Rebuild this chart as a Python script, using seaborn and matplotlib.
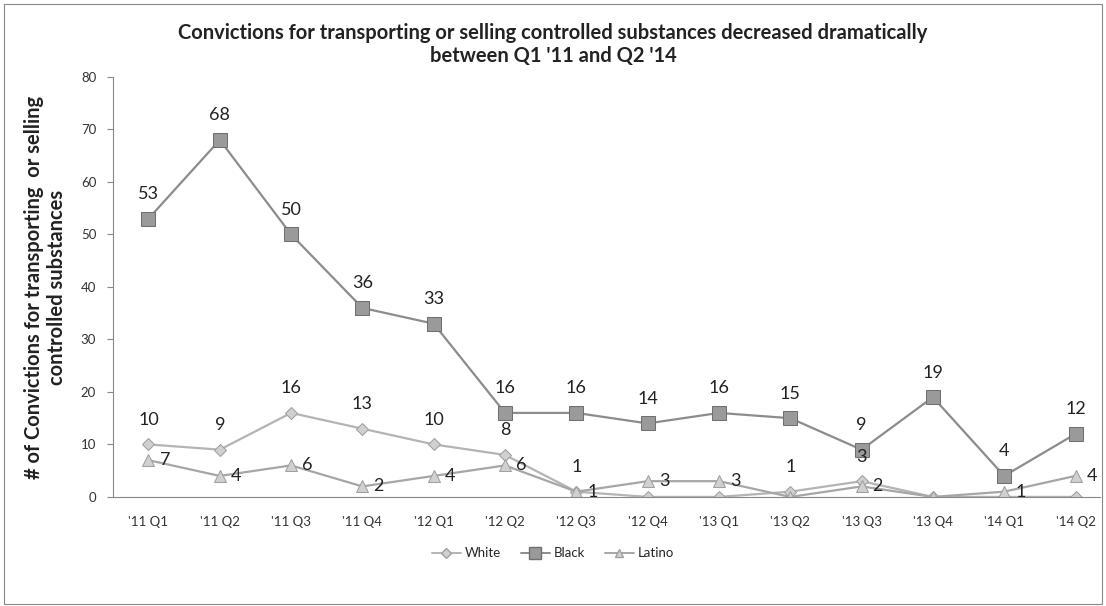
import numpy as np
import matplotlib
matplotlib.use("Agg")
import matplotlib.pyplot as plt
import pandas as pd
import seaborn as sns
from matplotlib.patches import Rectangle

quarters = ["'11 Q1", "'11 Q2", "'11 Q3", "'11 Q4", "'12 Q1", "'12 Q2", "'12 Q3",
            "'12 Q4", "'13 Q1", "'13 Q2", "'13 Q3", "'13 Q4", "'14 Q1", "'14 Q2"]
white = [10, 9, 16, 13, 10, 8, 1, 0, 0, 1, 3, 0, 0, 0]
black = [53, 68, 50, 36, 33, 16, 16, 14, 16, 15, 9, 19, 4, 12]
latino = [7, 4, 6, 2, 4, 6, 1, 3, 3, 0, 2, 0, 1, 4]
y_ticks = [0, 10, 20, 30, 40, 50, 60, 70, 80]

series = {"White": white, "Black": black, "Latino": latino}
rows = []
for name, vals in series.items():
    for i, v in enumerate(vals):
        rows.append({"pos": i, "value": v, "group": name})
df = pd.DataFrame(rows)

sns.set_style("white")
plt.rcParams['font.family'] = ['Lato', 'DejaVu Sans']

fig = plt.figure(figsize=(11.06, 6.06), dpi=100)
ax = fig.add_axes([0.102, 0.180, 0.893, 0.693])

palette = {"White": "#b4b4b4", "Black": "#8c8c8c", "Latino": "#a6a6a6"}
markers = {"White": "D", "Black": "s", "Latino": "^"}
sizes = {"White": 6, "Black": 10, "Latino": 8}

for name in ["White", "Latino", "Black"]:
    sub = df[df["group"] == name]
    sns.lineplot(data=sub, x="pos", y="value", ax=ax, color=palette[name],
                 marker=markers[name], markersize=sizes[name], linewidth=1.6,
                 markerfacecolor="#9a9a9a" if name == "Black" else "#d0d0d0",
                 markeredgecolor="#707070" if name == "Black" else "#a0a0a0",
                 label=name, legend=False)

# data labels
for i, v in enumerate(black):
    ax.annotate(str(v), (i, v), xytext=(0, 12), textcoords="offset points",
                ha="center", va="bottom", fontsize=13, color="#222222")
for i, v in enumerate(white):
    if v > 0:
        ax.annotate(str(v), (i, v), xytext=(0, 12), textcoords="offset points",
                    ha="center", va="bottom", fontsize=13, color="#222222")
for i, v in enumerate(latino):
    if v > 0:
        ax.annotate(str(v), (i, v), xytext=(8, 0), textcoords="offset points",
                    ha="left", va="center", fontsize=13, color="#222222")

ax.set_xlim(-0.5, 13.35)
ax.set_ylim(0, 80)
ax.set_yticks(y_ticks)
ax.set_yticklabels([str(t) for t in y_ticks], fontsize=9.5, color="#333333")
ax.set_xticks(range(len(quarters)))
ax.set_xticklabels(quarters, fontsize=9.5, color="#333333")
ax.set_xticks(np.arange(0.5, len(quarters) - 0.5, 1), minor=True)
ax.tick_params(axis="x", which="major", length=0, pad=14)
ax.tick_params(axis="x", which="minor", length=4, color="#888888", direction="out")
ax.tick_params(axis="y", length=4, color="#888888", direction="out", left=True, pad=8)
for s in ["top", "right"]:
    ax.spines[s].set_visible(False)
for s in ["left", "bottom"]:
    ax.spines[s].set_color("#888888")
    ax.spines[s].set_linewidth(0.8)
ax.set_xlabel("")
ax.set_ylabel("# of Convictions for transporting  or selling\ncontrolled substances",
              fontsize=14.5, fontweight="bold", color="#222222", labelpad=10, linespacing=1.15)

fig.text(0.5, 0.962, "Convictions for transporting or selling controlled substances decreased dramatically\nbetween Q1 '11 and Q2 '14",
         ha="center", va="top", fontsize=14.5, fontweight="bold", color="#222222", linespacing=1.2)

handles = [plt.Line2D([], [], color=palette[n], marker=markers[n], markersize=sizes[n] * 0.8,
                      markerfacecolor="#9a9a9a" if n == "Black" else "#d0d0d0",
                      markeredgecolor="#707070" if n == "Black" else "#a0a0a0", linewidth=1.4)
           for n in ["White", "Black", "Latino"]]
fig.legend(handles, ["White", "Black", "Latino"], loc="center", bbox_to_anchor=(0.5, 0.087),
           ncol=3, frameon=False, fontsize=9.5, handlelength=2.2, columnspacing=1.5, handletextpad=0.3)

fig.patches.append(Rectangle((0.004, 0.004), 0.992, 0.99, transform=fig.transFigure,
                             fill=False, edgecolor="#888888", linewidth=0.8))

fig.savefig("out.png", dpi=100)
